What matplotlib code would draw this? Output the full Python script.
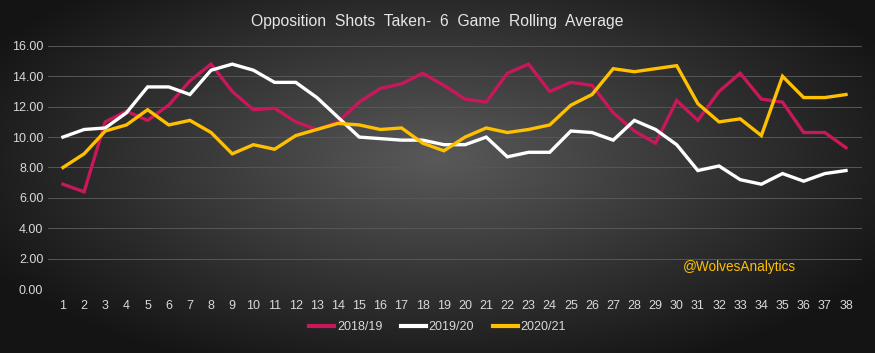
#!/usr/bin/python

import numpy as np
import matplotlib
matplotlib.use('Agg')
import matplotlib.pyplot as plt
from matplotlib.lines import Line2D

# game numbers and 6 game rolling averages
games = list(range(1, 39))

season_1819 = [6.9, 6.4, 11.0, 11.7, 11.1, 12.1, 13.7, 14.8, 13.0, 11.8,
               11.9, 11.0, 10.5, 11.0, 12.3, 13.2, 13.5, 14.2, 13.4, 12.5,
               12.3, 14.2, 14.8, 13.0, 13.6, 13.4, 11.6, 10.4, 9.6, 12.4,
               11.1, 13.0, 14.2, 12.5, 12.3, 10.3, 10.3, 9.3]

season_1920 = [10.0, 10.5, 10.6, 11.6, 13.3, 13.3, 12.8, 14.4, 14.8, 14.4,
               13.6, 13.6, 12.6, 11.3, 10.0, 9.9, 9.8, 9.8, 9.5, 9.5,
               10.0, 8.7, 9.0, 9.0, 10.4, 10.3, 9.8, 11.1, 10.5, 9.5,
               7.8, 8.1, 7.2, 6.9, 7.6, 7.1, 7.6, 7.8]

season_2021 = [8.0, 8.9, 10.4, 10.8, 11.8, 10.8, 11.1, 10.3, 8.9, 9.5,
               9.2, 10.1, 10.5, 10.9, 10.8, 10.5, 10.6, 9.6, 9.1, 10.0,
               10.6, 10.3, 10.5, 10.8, 12.1, 12.8, 14.5, 14.3, 14.5, 14.7,
               12.2, 11.0, 11.2, 10.1, 14.0, 12.6, 12.6, 12.8]

labels = ['2018/19', '2019/20', '2020/21']
colours = ['#C8175A', '#FFFFFF', '#FFC000']
yticks = [0, 2, 4, 6, 8, 10, 12, 14, 16]

plt.rcParams['font.family'] = ['Liberation Sans', 'DejaVu Sans']

fig = plt.figure(figsize=(8.75, 3.53), dpi=100)

#Radial gradient background covering the whole figure
bg = fig.add_axes([0, 0, 1, 1], zorder=0)
gx, gy = np.meshgrid(np.linspace(-1, 1, 875), np.linspace(-1, 1, 353))
r = np.sqrt(gx ** 2 + ((gy + 0.1) / 1.1) ** 2)
shade = np.clip(0.35 - 0.23 * r, 0.08, 1)
bg.imshow(np.dstack([shade, shade, shade]), aspect='auto', extent=(0, 1, 0, 1))
bg.axis('off')

ax = fig.add_axes([0.055, 0.181, 0.93, 0.689], zorder=1)
ax.set_facecolor('none')

for vals, lab, col in zip([season_1819, season_1920, season_2021], labels, colours):
    ax.plot(games, vals, color=col, lw=2.4, label=lab, solid_joinstyle='miter')

ax.set_xlim(0.3, 38.75)
ax.set_ylim(0, 16)
ax.set_xticks(games)
ax.set_yticks(yticks)
ax.set_yticklabels(['%.2f' % v for v in yticks])
ax.tick_params(colors='#D9D9D9', labelsize=9, length=0)
ax.tick_params(axis='x', pad=8)
ax.grid(axis='y', color='#575757', lw=0.7)
ax.set_axisbelow(True)
for s in ax.spines.values():
    s.set_visible(False)

ax.text(30.3, 1.45, '@WolvesAnalytics', color='#FFC000', fontsize=9.8,
        va='center', ha='left')

fig.text(0.5, 0.94, 'Opposition  Shots  Taken-  6  Game  Rolling  Average',
         color='#E6E6E6', fontsize=11.3, ha='center', va='center')

handles = [Line2D([], [], color=c, lw=3) for c in colours]
leg = fig.legend(handles, labels, loc='center', bbox_to_anchor=(0.5, 0.073),
                 ncol=3, frameon=False, fontsize=9, handlelength=2,
                 handletextpad=0.2, columnspacing=1.5)
for t in leg.get_texts():
    t.set_color('#D9D9D9')

fig.savefig('out.png', dpi=100)
